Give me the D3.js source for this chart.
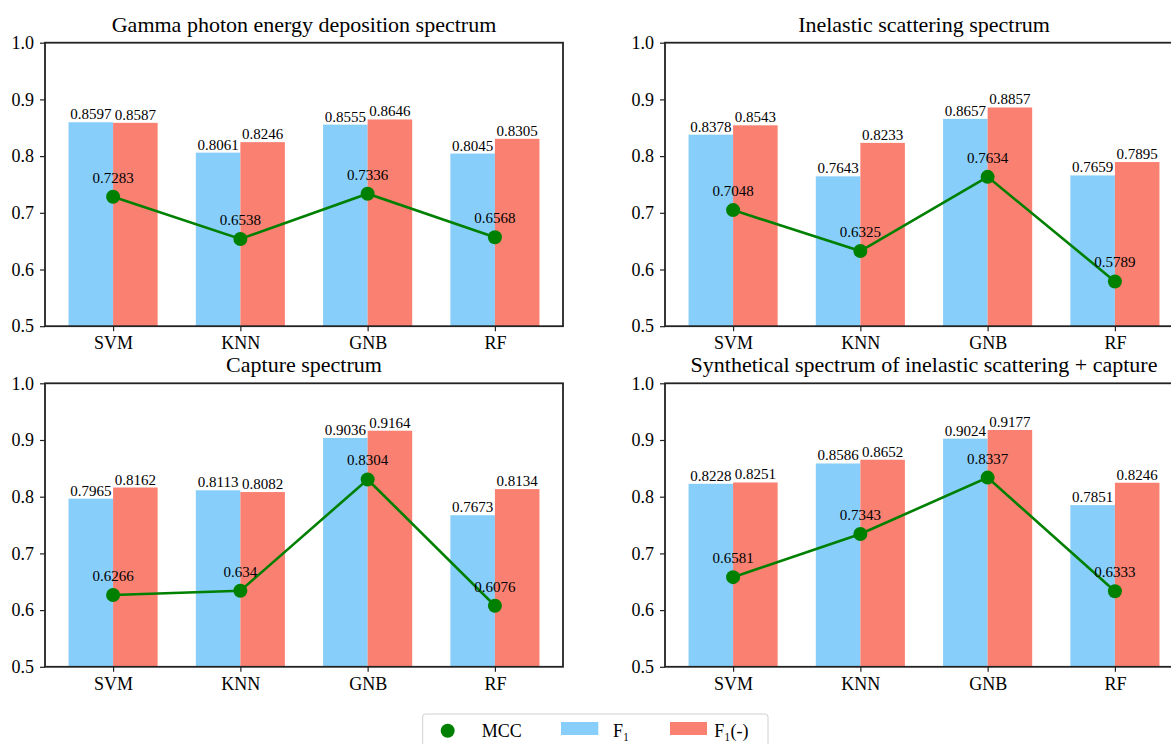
<!DOCTYPE html>
<html>
<head>
<meta charset="utf-8">
<script src="https://cdn.jsdelivr.net/npm/d3@7"></script>
<style>
  html, body { margin: 0; padding: 0; background: #fff; }
  svg { display: block; }
  svg text { font-family: "Liberation Serif", "Times New Roman", serif !important; fill: #000; }
</style>
</head>
<body>
<svg id="chart" width="1171" height="744"></svg>
<script>
// ---- Data ----
const categories = ["SVM", "KNN", "GNB", "RF"];
const yTicks = [0.5, 0.6, 0.7, 0.8, 0.9, 1.0];
const panelTitles = [
  "Gamma photon energy deposition spectrum",
  "Inelastic scattering spectrum",
  "Capture spectrum",
  "Synthetical spectrum of inelastic scattering + capture"
];
const f1Gamma = [0.8597, 0.8061, 0.8555, 0.8045];
const f1negGamma = [0.8587, 0.8246, 0.8646, 0.8305];
const mccGamma = [0.7283, 0.6538, 0.7336, 0.6568];

const f1Inelastic = [0.8378, 0.7643, 0.8657, 0.7659];
const f1negInelastic = [0.8543, 0.8233, 0.8857, 0.7895];
const mccInelastic = [0.7048, 0.6325, 0.7634, 0.5789];

const f1Capture = [0.7965, 0.8113, 0.9036, 0.7673];
const f1negCapture = [0.8162, 0.8082, 0.9164, 0.8134];
const mccCapture = [0.6266, 0.634, 0.8304, 0.6076];

const f1Synth = [0.8228, 0.8586, 0.9024, 0.7851];
const f1negSynth = [0.8251, 0.8652, 0.9177, 0.8246];
const mccSynth = [0.6581, 0.7343, 0.8337, 0.6333];

const legendLabels = ["MCC", "F\u2081", "F\u2081(-)"];

// ---- Styles ----
const BLUE = "#87CEFA", RED = "#FA8072", GREEN = "#008000";
const SERIF = '"Liberation Serif", "Times New Roman", serif';

const panels = [
  { title: panelTitles[0], f1: f1Gamma, f1n: f1negGamma, mcc: mccGamma, x0: 45, y0: 42.7 },
  { title: panelTitles[1], f1: f1Inelastic, f1n: f1negInelastic, mcc: mccInelastic, x0: 665, y0: 42.7 },
  { title: panelTitles[2], f1: f1Capture, f1n: f1negCapture, mcc: mccCapture, x0: 45, y0: 383.3 },
  { title: panelTitles[3], f1: f1Synth, f1n: f1negSynth, mcc: mccSynth, x0: 665, y0: 383.3 }
];
const W = 518, H = 283.5;
const barW = 0.35;

const svg = d3.select("#chart");

panels.forEach(p => {
  const g = svg.append("g").attr("transform", `translate(${p.x0},${p.y0})`);
  const x = d3.scaleLinear().domain([-0.535, 3.535]).range([0, W]);
  const y = d3.scaleLinear().domain([0.5, 1.0]).range([H, 0]);
  const bw = x(barW) - x(0);

  // bars
  g.append("g").selectAll("rect").data(p.f1).join("rect")
    .attr("x", (d, i) => x(i - barW))
    .attr("y", d => y(d))
    .attr("width", bw)
    .attr("height", d => H - y(d))
    .attr("fill", BLUE);
  g.append("g").selectAll("rect").data(p.f1n).join("rect")
    .attr("x", (d, i) => x(i))
    .attr("y", d => y(d))
    .attr("width", bw)
    .attr("height", d => H - y(d))
    .attr("fill", RED);

  // bar labels
  const lab = (arr, off) => g.append("g").selectAll("text").data(arr).join("text")
    .attr("x", (d, i) => x(i + off))
    .attr("y", d => y(d) - 3)
    .attr("text-anchor", "middle")
    .style("font-family", SERIF)
    .style("font-size", "15px")
    .text(d => d.toString());
  lab(p.f1, -barW / 2);
  lab(p.f1n, barW / 2);

  // MCC line
  const line = d3.line().x((d, i) => x(i)).y(d => y(d));
  g.append("path").datum(p.mcc)
    .attr("d", line).attr("fill", "none")
    .attr("stroke", GREEN).attr("stroke-width", 2.6);
  g.append("g").selectAll("circle").data(p.mcc).join("circle")
    .attr("cx", (d, i) => x(i)).attr("cy", d => y(d))
    .attr("r", 7).attr("fill", GREEN);
  g.append("g").selectAll("text").data(p.mcc).join("text")
    .attr("x", (d, i) => x(i))
    .attr("y", d => y(d) - 14)
    .attr("text-anchor", "middle")
    .style("font-family", SERIF)
    .style("font-size", "15px")
    .text(d => d.toString());

  // axes
  const yAxis = d3.axisLeft(y).tickValues(yTicks).tickFormat(d3.format(".1f")).tickSize(5).tickPadding(6);
  const ya = g.append("g").call(yAxis);
  const xAxis = d3.axisBottom(x).tickValues([0, 1, 2, 3]).tickFormat(i => categories[i]).tickSize(5).tickPadding(5);
  const xa = g.append("g").attr("transform", `translate(0,${H})`).call(xAxis);
  [ya, xa].forEach(a => {
    a.attr("font-family", null).attr("font-size", null);
    a.select(".domain").remove();
    a.selectAll("line").attr("stroke", "#222").attr("stroke-width", 1.2);
    a.selectAll("text").style("font-family", SERIF).attr("fill", "#000").style("font-size", "18px");
  });
  // frame
  g.append("rect").attr("x", 0).attr("y", 0).attr("width", W).attr("height", H)
    .attr("fill", "none").attr("stroke", "#222").attr("stroke-width", 1.8);

  // title
  g.append("text").attr("x", W / 2).attr("y", -11)
    .attr("text-anchor", "middle")
    .style("font-family", SERIF).style("font-size", "22px").text(p.title);
});

// legend
const lg = svg.append("g");
lg.append("rect").attr("x", 422.7).attr("y", 714).attr("width", 345.3).attr("height", 40)
  .attr("rx", 3).attr("fill", "#fff").attr("stroke", "#d0d0d0").attr("stroke-width", 1);
lg.append("circle").attr("cx", 447.7).attr("cy", 730.7).attr("r", 7).attr("fill", GREEN);
lg.append("rect").attr("x", 561).attr("y", 722).attr("width", 37.3).attr("height", 13).attr("fill", BLUE);
lg.append("rect").attr("x", 670).attr("y", 722).attr("width", 37).attr("height", 13).attr("fill", RED);
const lx = [481.7, 613, 714.3];
lg.selectAll("text.leg").data(legendLabels).join("text")
  .attr("x", (d, i) => lx[i]).attr("y", 737)
  .style("font-family", SERIF).style("font-size", "18px").text(d => d);
</script>
</body>
</html>
